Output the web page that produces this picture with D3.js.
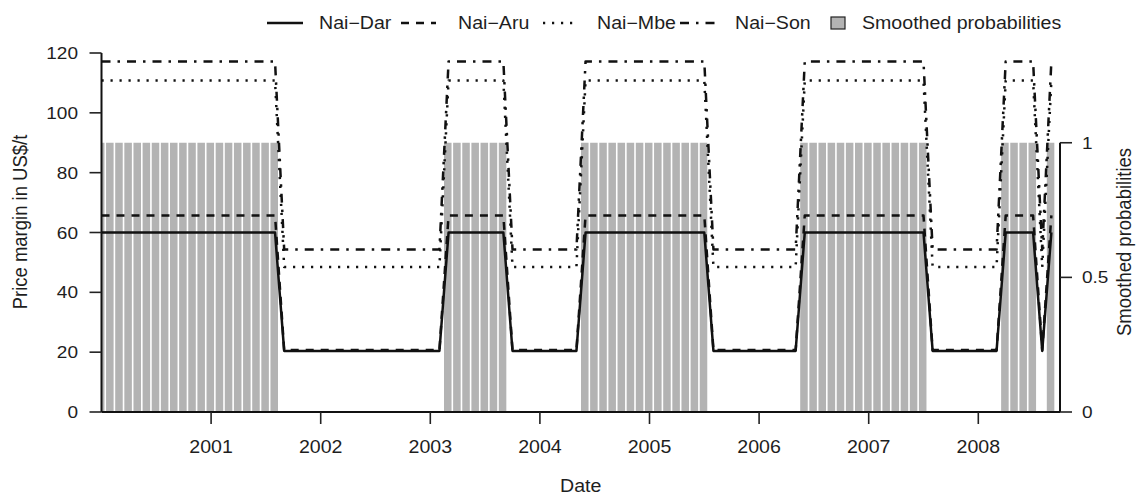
<!DOCTYPE html>
<html><head><meta charset="utf-8">
<script src="https://cdn.jsdelivr.net/npm/d3@7"></script>
<style>
body{margin:0;background:#fff}
svg{display:block}
text{font-family:"Liberation Sans",Arial,Helvetica,sans-serif;fill:#1e1e1e}
</style>
</head><body>
<svg id="c" width="1136" height="496"></svg>
<script>
// Monthly observations, Jan 2000 .. Sep 2008 (decimal year)
const months = d3.range(105).map(k => 2000 + k / 12);

const naiDar = [
  60,60,60,60,60,60,60,60,60,60,60,60,60,60,60,60,60,60,60,60,
  20.4,20.4,20.4,20.4,20.4,20.4,20.4,20.4,20.4,20.4,20.4,20.4,20.4,20.4,20.4,20.4,20.4,20.4,
  60,60,60,60,60,60,60,
  20.4,20.4,20.4,20.4,20.4,20.4,20.4,20.4,
  60,60,60,60,60,60,60,60,60,60,60,60,60,60,
  20.4,20.4,20.4,20.4,20.4,20.4,20.4,20.4,20.4,20.4,
  60,60,60,60,60,60,60,60,60,60,60,60,60,60,
  20.4,20.4,20.4,20.4,20.4,20.4,20.4,20.4,
  60,60,60,60,
  20.4,
  60
];
const naiAru = [
  65.7,65.7,65.7,65.7,65.7,65.7,65.7,65.7,65.7,65.7,65.7,65.7,65.7,65.7,65.7,65.7,65.7,65.7,65.7,65.7,
  20.7,20.7,20.7,20.7,20.7,20.7,20.7,20.7,20.7,20.7,20.7,20.7,20.7,20.7,20.7,20.7,20.7,20.7,
  65.7,65.7,65.7,65.7,65.7,65.7,65.7,
  20.7,20.7,20.7,20.7,20.7,20.7,20.7,20.7,
  65.7,65.7,65.7,65.7,65.7,65.7,65.7,65.7,65.7,65.7,65.7,65.7,65.7,65.7,
  20.7,20.7,20.7,20.7,20.7,20.7,20.7,20.7,20.7,20.7,
  65.7,65.7,65.7,65.7,65.7,65.7,65.7,65.7,65.7,65.7,65.7,65.7,65.7,65.7,
  20.7,20.7,20.7,20.7,20.7,20.7,20.7,20.7,
  65.7,65.7,65.7,65.7,
  20.7,
  65.7
];
const naiMbe = [
  110.8,110.8,110.8,110.8,110.8,110.8,110.8,110.8,110.8,110.8,110.8,110.8,110.8,110.8,110.8,110.8,110.8,110.8,110.8,110.8,
  48.5,48.5,48.5,48.5,48.5,48.5,48.5,48.5,48.5,48.5,48.5,48.5,48.5,48.5,48.5,48.5,48.5,48.5,
  110.8,110.8,110.8,110.8,110.8,110.8,110.8,
  48.5,48.5,48.5,48.5,48.5,48.5,48.5,48.5,
  110.8,110.8,110.8,110.8,110.8,110.8,110.8,110.8,110.8,110.8,110.8,110.8,110.8,110.8,
  48.5,48.5,48.5,48.5,48.5,48.5,48.5,48.5,48.5,48.5,
  110.8,110.8,110.8,110.8,110.8,110.8,110.8,110.8,110.8,110.8,110.8,110.8,110.8,110.8,
  48.5,48.5,48.5,48.5,48.5,48.5,48.5,48.5,
  110.8,110.8,110.8,110.8,
  48.5,
  110.8
];
const naiSon = [
  117.2,117.2,117.2,117.2,117.2,117.2,117.2,117.2,117.2,117.2,117.2,117.2,117.2,117.2,117.2,117.2,117.2,117.2,117.2,117.2,
  54.3,54.3,54.3,54.3,54.3,54.3,54.3,54.3,54.3,54.3,54.3,54.3,54.3,54.3,54.3,54.3,54.3,54.3,
  117.2,117.2,117.2,117.2,117.2,117.2,117.2,
  54.3,54.3,54.3,54.3,54.3,54.3,54.3,54.3,
  117.2,117.2,117.2,117.2,117.2,117.2,117.2,117.2,117.2,117.2,117.2,117.2,117.2,117.2,
  54.3,54.3,54.3,54.3,54.3,54.3,54.3,54.3,54.3,54.3,
  117.2,117.2,117.2,117.2,117.2,117.2,117.2,117.2,117.2,117.2,117.2,117.2,117.2,117.2,
  54.3,54.3,54.3,54.3,54.3,54.3,54.3,54.3,
  117.2,117.2,117.2,117.2,
  54.3,
  117.2
];
const smoothedProb = [
  1,1,1,1,1,1,1,1,1,1,1,1,1,1,1,1,1,1,1,1,
  0,0,0,0,0,0,0,0,0,0,0,0,0,0,0,0,0,0,
  1,1,1,1,1,1,1,
  0,0,0,0,0,0,0,0,
  1,1,1,1,1,1,1,1,1,1,1,1,1,1,
  0,0,0,0,0,0,0,0,0,0,
  1,1,1,1,1,1,1,1,1,1,1,1,1,1,
  0,0,0,0,0,0,0,0,
  1,1,1,1,
  0,
  1
];

const seriesNames = ["Nai\u2212Dar", "Nai\u2212Aru", "Nai\u2212Mbe", "Nai\u2212Son"];
const probName = "Smoothed probabilities";
const xTicks = [2001, 2002, 2003, 2004, 2005, 2006, 2007, 2008];
const yTicks = [0, 20, 40, 60, 80, 100, 120];
const probTicks = [0, 0.5, 1];

// ---------- layout ----------
const X0 = 101.5, X1 = 1060, Y0 = 412, Y120 = 53;
const svg = d3.select("#c");
const x = d3.scaleLinear().domain([2000, 2000 + (X1 - X0) / 109.6]).range([X0, X1]);
const y = d3.scaleLinear().domain([0, 120]).range([Y0, Y120]);
const yR = d3.scaleLinear().domain([0, 1]).range([Y0, y(90)]);
const step = x(2000 + 1 / 12) - x(2000);
const SX = 1.12;

function txt(g, s, tx, ty, size, anchor, rot) {
  return g.append("text")
    .attr("transform", `translate(${tx},${ty})` + (rot ? ` rotate(${rot})` : "") + ` scale(${rot ? 1 : SX},${rot ? SX : 1})`)
    .attr("font-size", size)
    .attr("text-anchor", anchor || "start")
    .text(s);
}

svg.append("defs").append("clipPath").attr("id", "plotclip")
  .append("rect").attr("x", X0).attr("y", 0).attr("width", X1 - X0).attr("height", Y0);

// bars (smoothed probabilities)
const barData = months.map((t, i) => ({ t, p: smoothedProb[i] })).filter(d => d.p > 0);
svg.append("g").attr("clip-path", "url(#plotclip)")
  .selectAll("rect").data(barData).join("rect")
  .attr("x", d => x(d.t) - step / 2)
  .attr("width", step - 1.6)
  .attr("y", d => yR(d.p))
  .attr("height", d => yR(0) - yR(d.p))
  .attr("fill", "#b3b3b3");

// lines
const dashes = [null, "8,7", "2.2,6.8", "9,7,2.5,7"];
const allSeries = [naiDar, naiAru, naiMbe, naiSon];
const line = d3.line().x((d, i) => x(months[i])).y(d => y(d));
allSeries.forEach((s, j) => {
  svg.append("path").datum(s)
    .attr("d", line)
    .attr("fill", "none")
    .attr("stroke", "#111")
    .attr("stroke-width", 2.5)
    .attr("stroke-dasharray", dashes[j])
    .attr("stroke-linejoin", "round");
});

// bottom axis
const gx = svg.append("g");
gx.append("line").attr("x1", X0).attr("x2", X1).attr("y1", Y0).attr("y2", Y0)
  .attr("stroke", "#111").attr("stroke-width", 2.2);
gx.selectAll("line.t").data(xTicks).join("line").attr("class", "t")
  .attr("x1", d => x(d)).attr("x2", d => x(d)).attr("y1", Y0).attr("y2", Y0 + 12)
  .attr("stroke", "#222").attr("stroke-width", 1.6);
xTicks.forEach(d => txt(gx, d3.format("d")(d), x(d), 453, 17.5, "middle"));
txt(svg, "Date", (X0 + X1) / 2, 492, 17.5, "middle");

// left axis
const gy = svg.append("g");
gy.append("line").attr("x1", X0).attr("x2", X0).attr("y1", y(0)).attr("y2", y(120))
  .attr("stroke", "#111").attr("stroke-width", 2);
gy.selectAll("line.t").data(yTicks).join("line").attr("class", "t")
  .attr("x1", X0 - 12).attr("x2", X0).attr("y1", d => y(d)).attr("y2", d => y(d))
  .attr("stroke", "#222").attr("stroke-width", 1.6);
yTicks.forEach(d => txt(gy, String(d), 78, y(d) + 6, 17, "end"));
txt(svg, "Price margin in US$/t", 27, 222, 18.5, "middle", -90);

// right axis
const gr = svg.append("g");
gr.append("line").attr("x1", X1).attr("x2", X1).attr("y1", yR(0)).attr("y2", yR(1))
  .attr("stroke", "#111").attr("stroke-width", 2);
gr.selectAll("line.t").data(probTicks).join("line").attr("class", "t")
  .attr("x1", X1).attr("x2", X1 + 12).attr("y1", d => yR(d)).attr("y2", d => yR(d))
  .attr("stroke", "#222").attr("stroke-width", 1.6);
probTicks.forEach(d => txt(gr, String(d), 1082, yR(d) + 6, 17, "start"));
txt(svg, "Smoothed probabilities", 1131, 242, 18.5, "middle", -90);

// legend
const lg = svg.append("g");
const legendItems = [
  { x1: 267, x2: 303, tx: 319 },
  { x1: 401, x2: 436, tx: 458 },
  { x1: 543, x2: 575, tx: 597 },
  { x1: 680, x2: 716, tx: 735 }
];
legendItems.forEach((it, j) => {
  lg.append("line").attr("x1", it.x1).attr("x2", it.x2).attr("y1", 23).attr("y2", 23)
    .attr("stroke", "#111").attr("stroke-width", 2.5).attr("stroke-dasharray", dashes[j]);
  txt(lg, seriesNames[j], it.tx, 29, 17.5, "start");
});
lg.append("rect").attr("x", 831).attr("y", 17).attr("width", 14).attr("height", 12)
  .attr("fill", "#b3b3b3").attr("stroke", "#222").attr("stroke-width", 1.2);
txt(lg, probName, 862, 29, 17.5, "start");
</script>
</body></html>
